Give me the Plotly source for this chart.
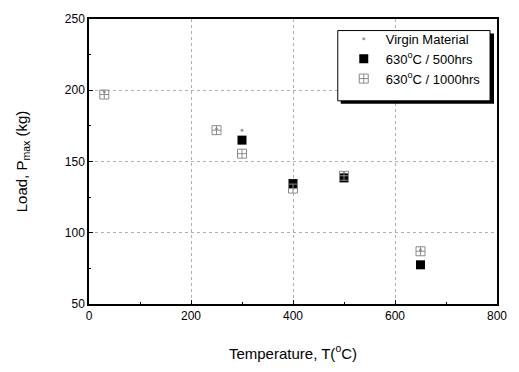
import plotly.graph_objects as go

temp_virgin = [30, 250, 300, 400, 500, 650]
load_virgin = [199, 173, 172, 135, 142, 88]

temp_500 = [300, 400, 500, 650]
load_500 = [165, 134.5, 138.5, 77.5]

temp_1000 = [30, 250, 300, 400, 500, 650]
load_1000 = [197, 172, 155.5, 131, 140, 87]

x_ticks = [0, 200, 400, 600, 800]
y_ticks = [50, 100, 150, 200, 250]

FONT = "Liberation Sans, Arial"

fig = go.Figure()
fig.add_trace(go.Scatter(x=temp_virgin, y=load_virgin, mode="markers", name="Virgin Material",
                         marker=dict(symbol="circle", size=3, color="#9a9a9a")))
fig.add_trace(go.Scatter(x=temp_500, y=load_500, mode="markers", name="630<sup>o</sup>C / 500hrs",
                         marker=dict(symbol="square", size=9, color="black")))
fig.add_trace(go.Scatter(x=temp_1000, y=load_1000, mode="markers", name="630<sup>o</sup>C / 1000hrs",
                         marker=dict(symbol="square-cross-open", size=9, color="#8a8a8a",
                                     line=dict(width=1))))

axis_common = dict(showline=True, linecolor="black", linewidth=1.5, mirror=True,
                   ticks="inside", ticklen=4, tickcolor="black",
                   showgrid=True, gridcolor="#b0b0b0", griddash="dot", gridwidth=1,
                   zeroline=False, tickfont=dict(family=FONT, size=12, color="black"))

fig.update_xaxes(range=[0, 800], tickvals=x_ticks,
                 minor=dict(ticks="inside", ticklen=2, dtick=100, tickcolor="black", showgrid=False),
                 title=dict(text="Temperature, T(<sup>o</sup>C)", font=dict(family=FONT, size=15, color="black"), standoff=26),
                 **axis_common)
fig.update_yaxes(range=[50, 250], tickvals=y_ticks,
                 minor=dict(ticks="inside", ticklen=2, dtick=25, tickcolor="black", showgrid=False),
                 title=dict(text="Load, P<sub>max</sub> (kg)", font=dict(family=FONT, size=15, color="black"), standoff=34),
                 **axis_common)

# legend box with shadow (plot area: x 89..499, y 12..308)
def px_x(p):
    return (p - 89) / 410
def px_y(p):
    return (308 - p) / 296

fig.add_shape(type="rect", xref="paper", yref="paper",
              x0=px_x(342), x1=px_x(496), y0=px_y(100), y1=px_y(27),
              fillcolor="black", line=dict(width=0), layer="above")
fig.add_shape(type="rect", xref="paper", yref="paper",
              x0=px_x(339), x1=px_x(492), y0=px_y(97), y1=px_y(24),
              fillcolor="white", line=dict(width=1, color="black"), layer="above")

fig.update_layout(
    width=519, height=372,
    margin=dict(l=89, r=20, t=12, b=64),
    paper_bgcolor="white", plot_bgcolor="white",
    font=dict(family=FONT, color="black"),
    legend=dict(x=px_x(343), y=px_y(17), xanchor="left", yanchor="top",
                bgcolor="rgba(0,0,0,0)", borderwidth=0,
                font=dict(family=FONT, size=13, color="black"), itemwidth=34,
                tracegroupgap=0),
    showlegend=True,
)

fig.write_html("out.html")
